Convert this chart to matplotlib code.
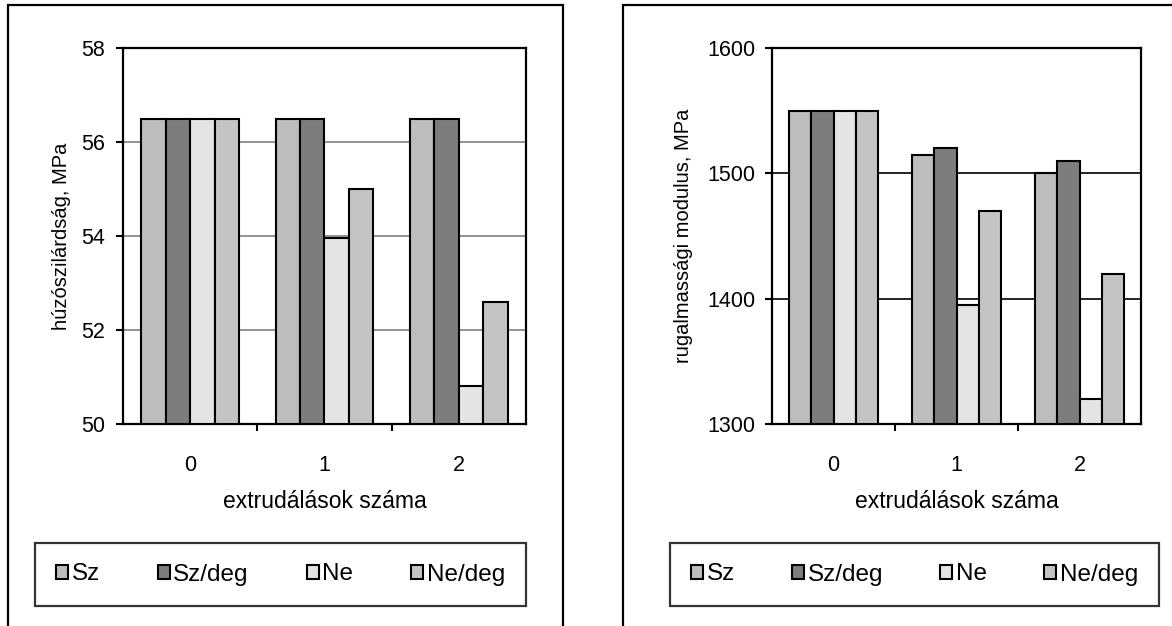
import numpy as np
import matplotlib
matplotlib.use("Agg")
import matplotlib.pyplot as plt
from matplotlib.patches import Rectangle

plt.rcParams['font.family'] = ['Liberation Sans', 'DejaVu Sans']

# ---------------------------
# data
# ---------------------------
categories = ["0", "1", "2"]
series = ["Sz", "Sz/deg", "Ne", "Ne/deg"]

szilardsag = {
    "Sz": [56.5, 56.5, 56.5],
    "Sz/deg": [56.5, 56.5, 56.5],
    "Ne": [56.5, 53.95, 50.8],
    "Ne/deg": [56.5, 55.0, 52.6],
}
modulus = {
    "Sz": [1550, 1515, 1500],
    "Sz/deg": [1550, 1520, 1510],
    "Ne": [1550, 1395, 1320],
    "Ne/deg": [1550, 1470, 1420],
}

left_ticks = [50, 52, 54, 56, 58]
right_ticks = [1300, 1400, 1500, 1600]

colors = {"Sz": "#bdbdbd", "Sz/deg": "#7d7d7d", "Ne": "#e4e4e4", "Ne/deg": "#c4c4c4"}

W, H = 1172, 626
FS_TICK = 15.5
FS_XLAB = 16.5
FS_YLAB = 14.5
FS_LEG = 17.5


def px_axes(x0, y0, x1, y1):
    return [x0 / W, 1 - y1 / H, (x1 - x0) / W, (y1 - y0) / H]


fig = plt.figure(figsize=(W / 100, H / 100), dpi=100)

# outer frames of the two panels
fig.patches.append(Rectangle((8 / W, -0.1), (563 - 8) / W, 1.1 - 5 / H,
                             transform=fig.transFigure, fill=False,
                             edgecolor="black", lw=1.6, clip_on=False))
fig.patches.append(Rectangle((623 / W, -0.1), 0.6, 1.1 - 5 / H,
                             transform=fig.transFigure, fill=False,
                             edgecolor="black", lw=1.6, clip_on=False))


def draw(ax, data, ticks, ylabel, grid_color, ylab_x, ypad):
    x = np.arange(len(categories))
    w = 1 / 5.5
    for i, s in enumerate(series):
        ax.bar(x + (i - 1.5) * w, np.array(data[s]) - ticks[0], w, bottom=ticks[0],
               color=colors[s], edgecolor="black", linewidth=1.5,
               label=s, zorder=3)
    ax.set_xlim(-0.5, 2.5)
    ax.set_ylim(ticks[0], ticks[-1])
    ax.set_yticks(ticks)
    ax.set_xticks(x)
    ax.set_xticklabels(categories)
    ax.set_xticks([0.5, 1.5], minor=True)
    ax.tick_params(axis="x", which="major", length=0, pad=22, labelsize=FS_TICK)
    ax.tick_params(axis="x", which="minor", length=5, width=1.5, direction="out")
    ax.tick_params(axis="y", length=5, width=1.5, direction="out", pad=ypad,
                   labelsize=FS_TICK)
    ax.yaxis.grid(True, color=grid_color, lw=1.2, zorder=0)
    for sp in ax.spines.values():
        sp.set_linewidth(1.6)
    ax.set_ylabel(ylabel, fontsize=FS_YLAB)
    ax.yaxis.set_label_coords(ylab_x, 0.5)
    ax.set_xlabel("extrudálások száma", fontsize=FS_XLAB)
    ax.xaxis.set_label_coords(0.5, -0.176)


ax1 = fig.add_axes(px_axes(123, 48, 526, 424))
draw(ax1, szilardsag, left_ticks, "húzószilárdság, MPa", "#808080", -0.128, 8)

ax2 = fig.add_axes(px_axes(772, 48, 1141, 424))
draw(ax2, modulus, right_ticks, "rugalmassági modulus, MPa", "black", -0.213, 7)

# legends in their own boxes
for ax, (lx0, lx1) in [(ax1, (35, 526)), (ax2, (670, 1159))]:
    box = [lx0 / W, 1 - 608 / H, (lx1 - lx0) / W, (608 - 541) / H]
    leg = ax.legend(loc="center", bbox_to_anchor=box, bbox_transform=fig.transFigure,
                    mode="expand", ncol=4, frameon=True, fancybox=False,
                    edgecolor="black", fontsize=FS_LEG, handlelength=0.5,
                    handleheight=0.5, handletextpad=0.15, borderpad=0.85,
                    borderaxespad=0)
    leg.get_frame().set_linewidth(1.6)

fig.savefig("out.png", dpi=100)
